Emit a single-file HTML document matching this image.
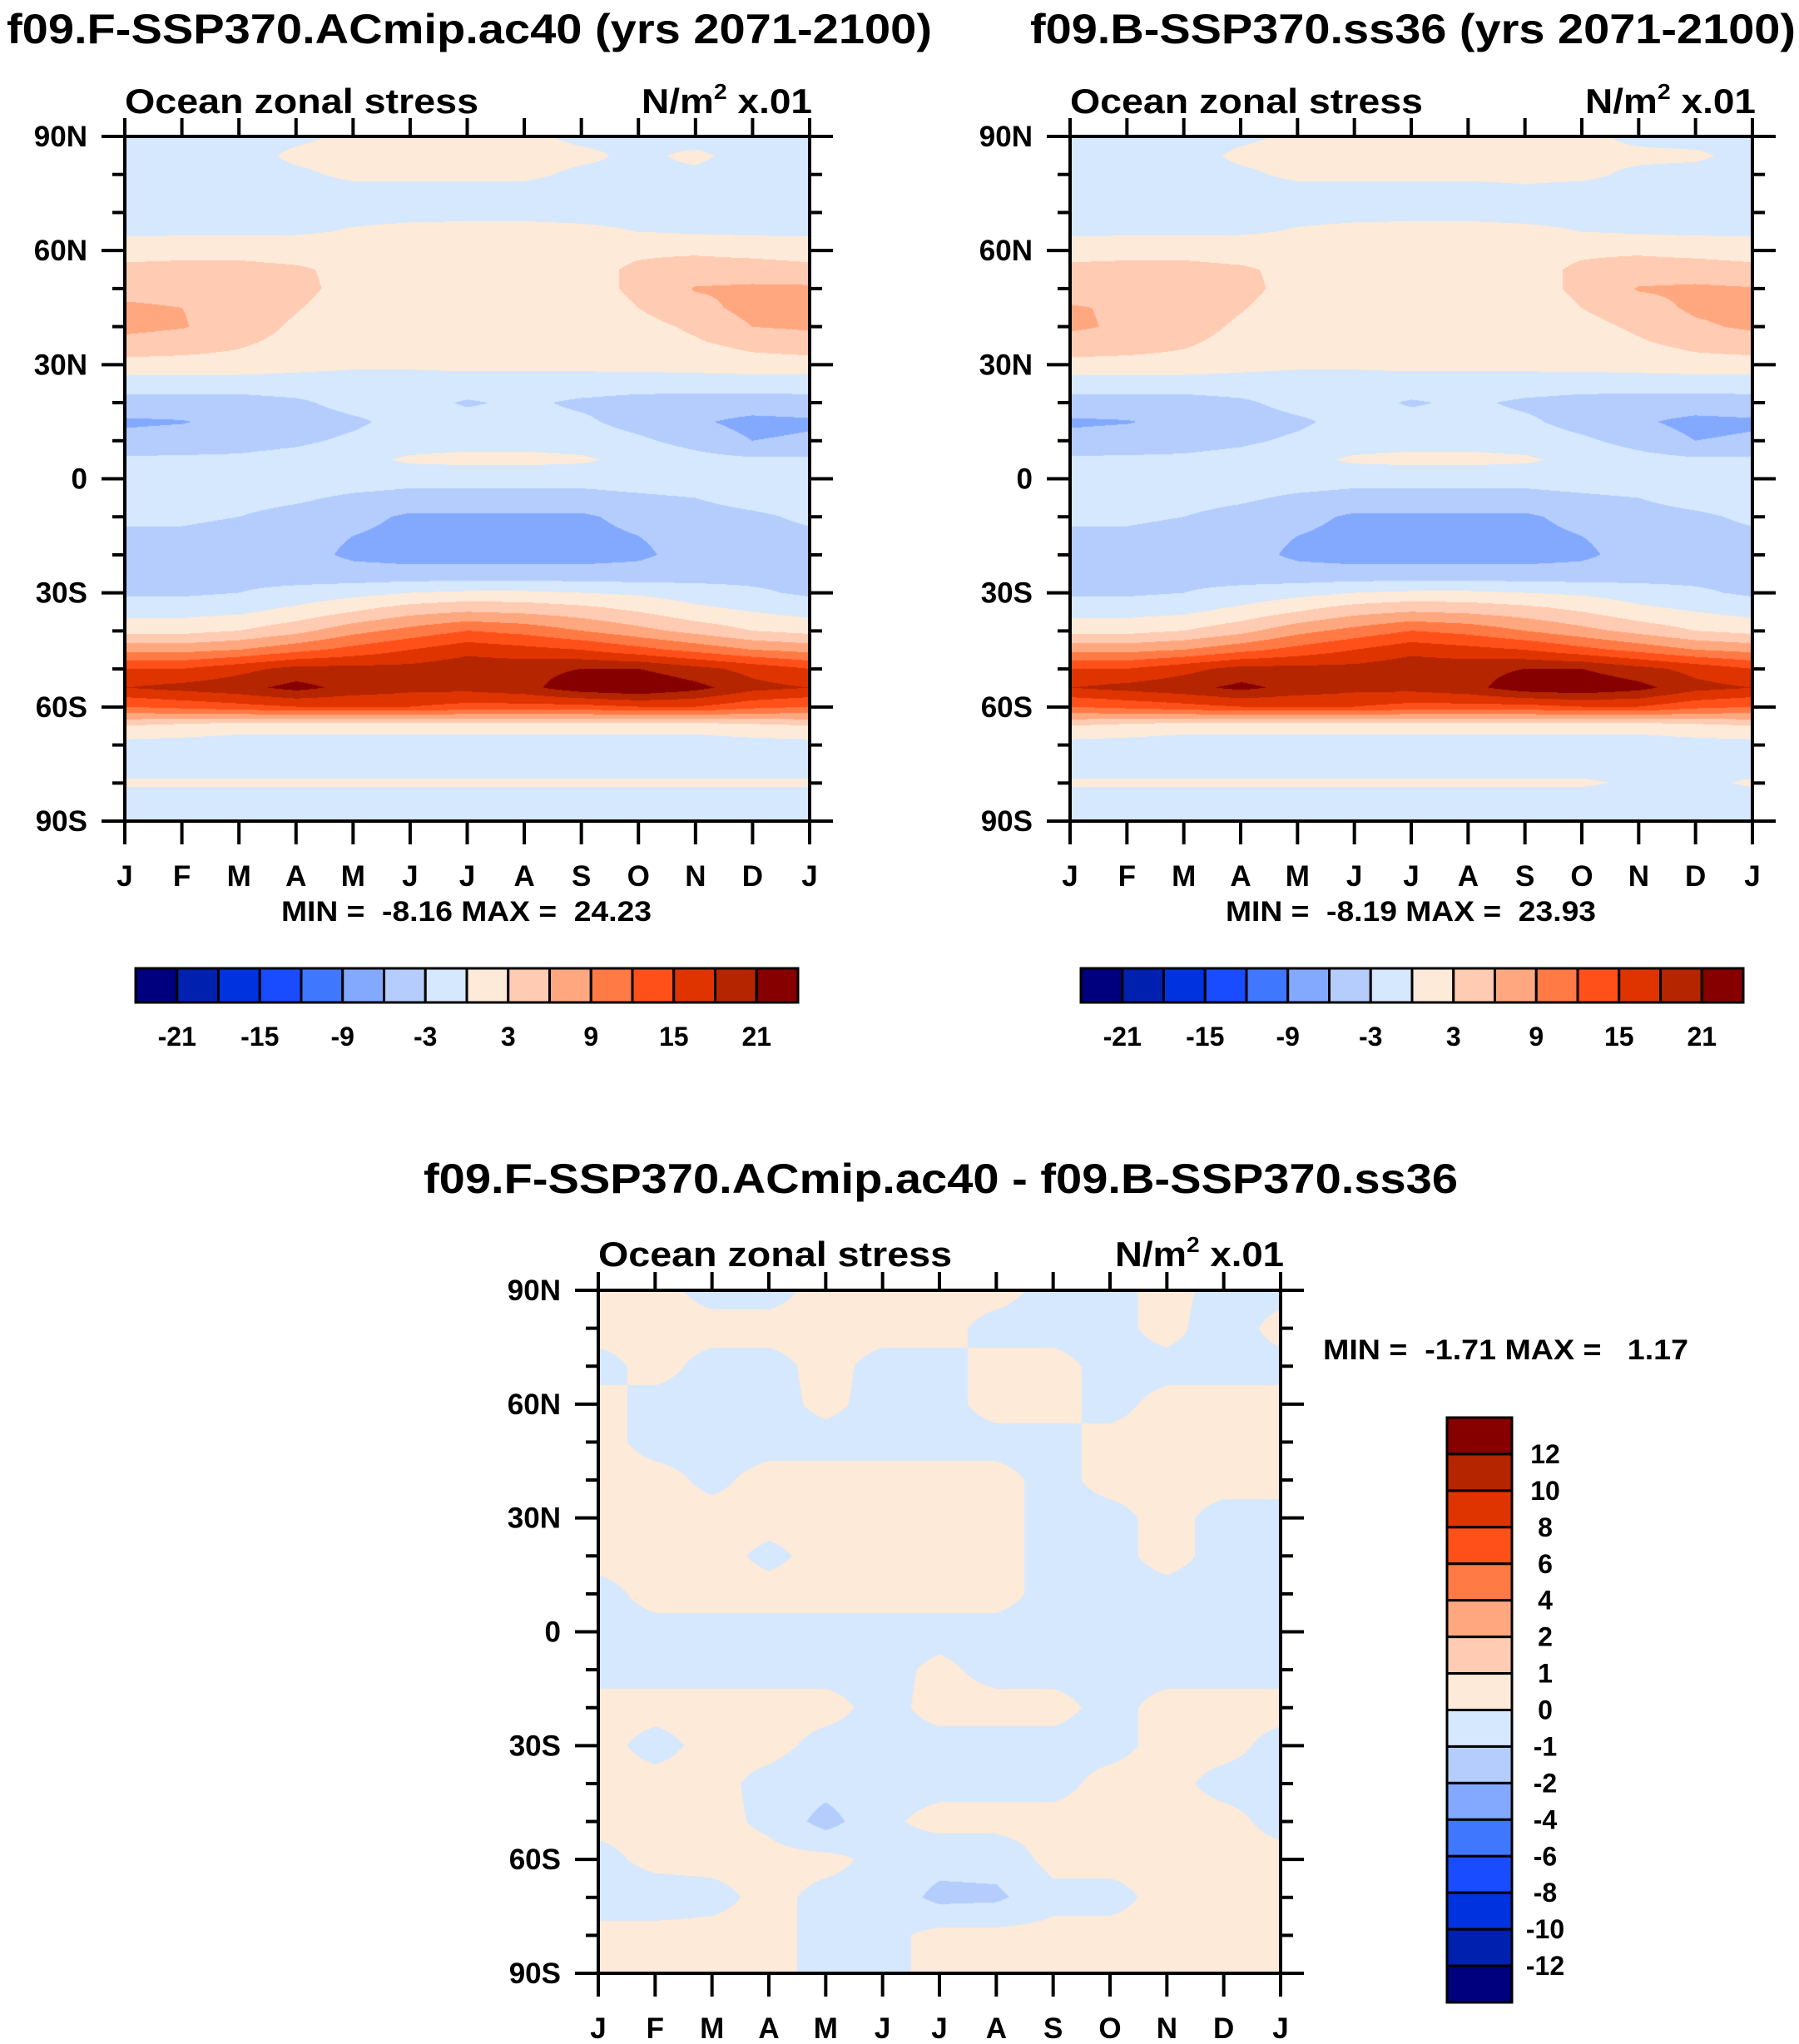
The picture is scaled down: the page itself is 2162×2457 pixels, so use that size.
<!DOCTYPE html>
<html><head><meta charset="utf-8">
<style>
html,body{margin:0;padding:0;background:#fff;}
#root{position:relative;width:2162px;height:2457px;overflow:hidden;background:#fff;}
canvas{position:absolute;}
svg{position:absolute;left:0;top:0;}
text{font-family:"Liberation Sans",sans-serif;font-weight:bold;fill:#000;white-space:pre;}
</style></head>
<body>
<div id="root">
<canvas id="c1"></canvas>
<canvas id="c2"></canvas>
<canvas id="c3"></canvas>
<svg id="ov" width="2162" height="2457" xml:space="preserve"></svg>
</div>
<script>
// ---------- data ----------
const months = ["J","F","M","A","M","J","J","A","S","O","N","D","J"];
const latTicks = ["90N","60N","30N","0","30S","60S","90S"];
const mainLevels = [-21,-18,-15,-12,-9,-6,-3,0,3,6,9,12,15,18,21];
const mainLabels = ["-21","-15","-9","-3","3","9","15","21"];
const diffLevels = [-12,-10,-8,-6,-4,-2,-1,0,1,2,4,6,8,10,12];
const diffLabels = ["12","10","8","6","4","2","1","0","-1","-2","-4","-6","-8","-10","-12"];
const palette = ["#00007f","#0020b0","#0033e0","#1a4cff","#4077ff","#83a9ff","#b4cdfd","#d5e8fd","#feead8","#ffcbb2","#ffa880","#ff7a45","#ff5019","#e03400","#b42500","#870000"];

const ctrlField = [
[-1,-1,-1,-0.5,0.5,0.5,0.5,0.5,-0.5,-0.5,-1,-1,-1],
[-1,-1,-1,0.5,1,1,1,1,0.5,-0.5,0.5,-1,-1],
[-1,-1,-1,-0.5,0.5,0.5,0.5,0.5,-0.5,-0.5,-0.5,-1,-1],
[-1.2,-1.2,-1.2,-1,-1,-1,-1,-1,-1,-1,-1,-1.2,-1.2],
[-0.8,-0.8,-0.6,-0.6,-0.6,-0.5,-0.4,-0.4,-0.4,-0.4,-0.6,-0.8,-0.8],
[-0.5,-0.5,-0.5,-0.3,0.2,0.5,0.5,0.5,0.3,0,-0.3,-0.5,-0.5],
[1.5,2,2,1.5,1.5,1.5,1.5,1.5,2,2.5,2.5,2,1.5],
[4,4,4,3.5,2,1.5,1.5,1.5,2,3.5,4.5,4.5,4],
[5,4.8,4.5,3.8,2,1.5,1.5,1.5,2,3.5,6.2,6.5,6.5],
[6.5,6,5,3.2,1.5,1,1,1,1.5,3,5,7,7.5],
[7,6.2,4.5,2.5,1,1,1,1,1,2,3.5,6,6.5],
[4.5,4,3.2,2,1,1,1,1,1,1.5,2.5,3.5,4],
[2,2,2,1,0.5,0.5,0.8,0.8,0.8,1,1.5,2,2],
[-1.8,-1.8,-1.8,-1.5,-1.5,-1.5,-1.5,-1.5,-1.5,-1.8,-2,-2,-1.8],
[-4,-4,-4,-3.5,-2,-2,-3.3,-2.5,-3.5,-4,-4,-4,-4],
[-6.5,-6.2,-5,-4.5,-3.5,-2,-2,-2,-2.5,-4,-5.5,-7,-6.5],
[-5,-4.5,-4,-3.5,-2.5,-1.5,-1,-1,-1.5,-2.5,-4,-6,-5.5],
[-2.5,-2.5,-2.5,-2,-1,0.5,0.8,0.8,0.5,-1,-2,-2.5,-2.5],
[-1,-1,-1,-1,-1.5,-2,-2,-2,-2,-1.5,-1,-1,-1],
[-1.5,-1.5,-2,-2.5,-3.5,-4,-4,-4,-4,-3.5,-3,-2,-1.5],
[-2.5,-2.5,-3,-4,-5,-6.5,-6.5,-6.5,-6.5,-5,-4,-3.5,-2.5],
[-3.5,-3.5,-4,-5,-6,-7,-7,-7,-7,-6,-5,-4,-3.5],
[-4,-4,-4.5,-5,-6.5,-7,-7,-7,-7,-6.5,-5,-4.5,-4],
[-4,-4,-4,-4.5,-5,-5,-5,-5,-5,-5,-4.5,-4,-4],
[-3.5,-3.5,-3,-2,-1,0,0.5,0.5,0,-0.5,-1.5,-2.5,-3.5],
[-1,-1,-0.5,1,3,5,6,5.5,4.5,3,1,0,-1],
[2,2,3,5,8,10,12,11,9,7,5,3,2],
[8,8,9,11,13,15,17,16,15,13,11,9,8],
[15,15,17,19,19,19,20,20,21,21,19,17,15],
[18,19,20,22,20,19,19,20,23,24,22,19,18],
[12,13,14,15,15,15,14,14,14,15,15,13,12],
[3,2,1,1,1,1,1,1,1,1,1,2,3],
[-1.2,-1.2,-1.2,-1.2,-1.2,-1.2,-1.2,-1.2,-1.2,-1.2,-1.2,-1.2,-1.2],
[-1,-1,-1,-1,-1,-1,-1,-1,-1,-1,-1,-1,-1],
[0.3,0.3,0.3,0.3,0.3,0.3,0.3,0.3,0.3,0.3,0.3,0.3,0.3],
[-1,-1,-1,-1,-1,-1,-1,-1,-1,-1,-1,-1,-1],
[-1,-1,-1,-1,-1,-1,-1,-1,-1,-1,-1,-1,-1]
];
const testField = [
[-1,-1,-1,-0.5,0.5,0.5,0.5,0.5,0.5,0.5,-0.5,-1,-1],
[-1,-1,-1,0.5,1,1,1,1,1,0.5,0.5,0.5,-1],
[-1,-1,-1,-0.5,0.5,0.5,0.5,0.5,0.5,0.5,-0.5,-1,-1],
[-1.2,-1.2,-1.2,-1,-1,-1,-1,-1,-0.5,-1,-1,-1.2,-1.2],
[-0.8,-0.8,-0.6,-0.6,-0.6,-0.5,-0.4,-0.4,-0.4,-0.4,-0.6,-0.8,-0.8],
[-0.5,-0.5,-0.5,-0.3,0.2,0.5,0.5,0.5,0.3,0,-0.3,-0.5,-0.5],
[1.5,2,2,1.5,1.5,1.5,1.5,1.5,2,2.5,2.5,2,1.5],
[4,4,4,3.5,2,1.5,1.5,1.5,2,3.5,4.5,4.5,4],
[4.5,4.5,4.5,3.8,2,1.5,1.5,1.5,2,3.5,6.2,6.5,6.2],
[6.3,5.5,4.8,3.2,1.5,1,1,1,1.5,3,4.8,6.5,7],
[6.5,5.5,4.2,2.5,1,1,1,1,1,2,3.5,5.5,6.5],
[4.5,4,3.2,2,1,1,1,1,1,1.5,2.5,3.5,4],
[2,2,2,1,0.5,0.5,0.8,0.8,0.8,1,1.5,2,2],
[-1.8,-1.8,-1.8,-1.5,-1.5,-1.5,-1.5,-1.5,-1.5,-1.8,-2,-2,-1.8],
[-4,-4,-4,-3.5,-2,-2,-3.3,-2.5,-3.5,-4,-4,-4,-4],
[-6.5,-6.2,-5,-4.5,-3.5,-2,-2,-2,-2.5,-4,-5.5,-7,-6.5],
[-5,-4.5,-4,-3.5,-2.5,-1.5,-1,-1,-1.5,-2.5,-4,-6,-5.5],
[-2.5,-2.5,-2.5,-2,-1,0.5,0.8,0.8,0.5,-1,-2,-2.5,-2.5],
[-1,-1,-1,-1,-1.5,-2,-2,-2,-2,-1.5,-1,-1,-1],
[-1.5,-1.5,-2,-2.5,-3.5,-4,-4,-4,-4,-3.5,-3,-2,-1.5],
[-2.5,-2.5,-3,-4,-5,-6.5,-6.5,-6.5,-6.5,-5,-4,-3.5,-2.5],
[-3.5,-3.5,-4,-5,-6,-7,-7,-7,-7,-6,-5,-4,-3.5],
[-4,-4,-4.5,-5,-6.5,-7,-7,-7,-7,-6.5,-5,-4.5,-4],
[-4,-4,-4,-4.5,-5,-5,-5,-5,-5,-5,-4.5,-4,-4],
[-3.5,-3.5,-3,-2,-1,0,0.5,0.5,0,-0.5,-1.5,-2.5,-3.5],
[-1,-1,-0.5,1,3,5,6,5.5,4.5,3,1,0,-1],
[2,2,3,5,8,10,12,11,9,7,5,3,2],
[8,8,9,11,13,15,17,16,15,13,11,9,8],
[15,15,17,19,19,19,20,20,21,21,19,17,15],
[18,19,20,21.8,20,19,19,20,22.8,23.5,22,19,18],
[12,13,14,15,15,15,14,14,14,15,15,13,12],
[3,2,1,1,1,1,1,1,1,1,1,2,3],
[-1.2,-1.2,-1.2,-1.2,-1.2,-1.2,-1.2,-1.2,-1.2,-1.2,-1.2,-1.2,-1.2],
[-1,-1,-1,-1,-1,-1,-1,-1,-1,-1,-1,-1,-1],
[0.3,0.3,0.3,0.3,0.3,0.3,0.3,0.3,0.3,0.3,-0.3,-0.5,0.3],
[-1,-1,-1,-1,-1,-1,-1,-1,-1,-1,-1,-1,-1],
[-1,-1,-1,-1,-1,-1,-1,-1,-1,-1,-1,-1,-1]
];
const diffField = [
[0.3,0.3,-0.3,-0.3,0.3,0.3,0.3,0.3,-0.3,-0.3,0.3,-0.3,-0.3],
[0.3,0.3,0.3,0.3,0.3,0.3,0.3,-0.3,-0.3,-0.3,0.3,-0.5,0.3],
[-0.3,0.3,-0.3,-0.3,0.3,-0.3,-0.3,0.3,0.3,-0.3,-0.3,-0.3,-0.3],
[0.3,-0.3,-0.3,-0.3,0.2,-0.3,-0.3,0.3,0.3,-0.3,0.3,0.3,0.3],
[0.3,-0.3,-0.3,-0.3,-0.3,-0.3,-0.3,-0.3,-0.3,0.3,0.3,0.5,0.3],
[0.3,0.3,-0.2,0.3,0.3,0.3,0.3,0.3,-0.3,0.3,0.3,0.3,0.3],
[0.3,0.3,0.3,0.3,0.3,0.3,0.3,0.3,-0.3,-0.3,0.3,-0.3,-0.3],
[0.3,0.3,0.3,-0.2,0.3,0.3,0.3,0.3,-0.3,-0.3,0.3,-0.3,-0.3],
[-0.3,0.3,0.3,0.3,0.3,0.3,0.3,0.3,-0.3,-0.3,-0.3,-0.3,-0.3],
[-0.3,-0.3,-0.3,-0.3,-0.3,-0.3,-0.3,-0.3,-0.3,-0.3,-0.3,-0.3,-0.3],
[-0.3,-0.3,-0.3,-0.3,-0.3,-0.3,0.2,-0.3,-0.3,-0.3,-0.3,-0.3,-0.3],
[0.3,0.3,0.3,0.3,0.3,-0.3,0.3,0.3,0.3,-0.3,0.3,0.3,0.3],
[0.3,-0.3,0.3,0.3,-0.3,-0.3,-0.3,-0.3,-0.3,-0.3,0.3,0.3,-0.3],
[0.3,0.3,0.3,-0.3,-0.6,-0.3,-0.3,-0.3,-0.3,0.3,0.3,-0.3,-0.3],
[0.3,0.3,0.3,-0.2,-1.4,-0.2,0.3,0.3,0.3,0.3,0.3,0.3,-0.3],
[-0.3,0.3,0.3,0.3,0.3,-0.3,-0.6,-0.6,0.3,0.3,0.3,0.3,0.3],
[-0.5,-0.5,-0.3,0.3,-0.3,-0.3,-1.3,-1.2,-0.3,-0.3,0.3,0.3,0.3],
[0.3,0.3,0.3,0.3,-0.3,-0.3,0.3,0.3,0.3,0.3,0.3,0.3,0.3],
[0.3,0.3,0.3,0.3,-0.3,-0.3,0.3,0.3,0.3,0.3,0.3,0.3,0.3]
];

// ---------- rendering ----------
const NS = "http://www.w3.org/2000/svg";
const ov = document.getElementById("ov");

function hexToRgb(h){return [parseInt(h.substr(1,2),16),parseInt(h.substr(3,2),16),parseInt(h.substr(5,2),16)];}

function renderField(id, x0, y0, w, h, field, levels) {
  const cv = document.getElementById(id);
  cv.width = w; cv.height = h;
  cv.style.left = x0 + "px"; cv.style.top = y0 + "px";
  const ctx = cv.getContext("2d");
  const img = ctx.createImageData(w, h);
  const nr = field.length, nc = field[0].length;
  const rgbs = palette.map(hexToRgb);
  for (let py = 0; py < h; py++) {
    const v = py / (h - 1) * (nr - 1);
    const r0 = Math.min(Math.floor(v), nr - 2), fy = v - r0;
    for (let px = 0; px < w; px++) {
      const u = px / (w - 1) * (nc - 1);
      const c0 = Math.min(Math.floor(u), nc - 2), fx = u - c0;
      const val = (field[r0][c0]*(1-fx) + field[r0][c0+1]*fx)*(1-fy) + (field[r0+1][c0]*(1-fx) + field[r0+1][c0+1]*fx)*fy;
      let k = 0;
      while (k < levels.length && val >= levels[k]) k++;
      const c = rgbs[k];
      const o = (py * w + px) * 4;
      img.data[o] = c[0]; img.data[o+1] = c[1]; img.data[o+2] = c[2]; img.data[o+3] = 255;
    }
  }
  ctx.putImageData(img, 0, 0);
}

function line(x1,y1,x2,y2,sw,name){
  const l = document.createElementNS(NS,"line");
  l.setAttribute("x1",x1); l.setAttribute("y1",y1); l.setAttribute("x2",x2); l.setAttribute("y2",y2);
  l.setAttribute("stroke","#000"); l.setAttribute("stroke-width",sw);
  
  
  ov.appendChild(l); return l;
}
function txt(s,x,y,size,anchor,name,len){
  const t = document.createElementNS(NS,"text");
  t.setAttribute("x",x); t.setAttribute("y",y);
  t.setAttribute("font-size",size);
  t.setAttribute("text-anchor",anchor||"start");
  if (len) { t.setAttribute("textLength",len); t.setAttribute("lengthAdjust","spacingAndGlyphs"); }
  t.textContent = s;
  
  
  ov.appendChild(t); return t;
}
function unitsText(xr, y, len){
  const t = document.createElementNS(NS,"text");
  t.setAttribute("x",xr - len); t.setAttribute("y",y);
  t.setAttribute("font-size",42);
  t.setAttribute("textLength",len); t.setAttribute("lengthAdjust","spacingAndGlyphs");
  t.innerHTML = 'N/m<tspan dy="-17" font-size="26">2</tspan><tspan dy="17"> x.01</tspan>';
  
  
  ov.appendChild(t);
}

function axes(x0,y0,w,h){
  const r = document.createElementNS(NS,"rect");
  r.setAttribute("x",x0); r.setAttribute("y",y0); r.setAttribute("width",w); r.setAttribute("height",h);
  r.setAttribute("fill","none"); r.setAttribute("stroke","#000"); r.setAttribute("stroke-width",4);
  
  
  ov.appendChild(r);
  for (let i = 0; i < months.length; i++) {
    const x = x0 + w * i / (months.length - 1);
    line(x, y0 + h, x, y0 + h + 28, 4, "x-tick");
    line(x, y0, x, y0 - 22, 4, "x-tick-top");
    txt(months[i], x, y0 + h + 78, 35, "middle", "month-label");
  }
  for (let d = 0; d <= 180; d += 10) {
    const y = y0 + h * d / 180;
    const major = d % 30 === 0;
    const L = major ? 28 : 15;
    line(x0 - L, y, x0, y, 4, major ? "y-tick" : "y-minor-tick");
    line(x0 + w, y, x0 + w + L, y, 4, major ? "y-tick-right" : "y-minor-tick-right");
    if (major) txt(latTicks[d/30], x0 - 45, y + 12, 35, "end", "latitude-label");
  }
}

renderField("c1",150,164,823,823,ctrlField,mainLevels);
renderField("c2",1286,164,820,823,testField,mainLevels);
renderField("c3",719,1551,820,821,diffField,diffLevels);
axes(150,164,823,823);
axes(1286,164,820,823);
axes(719,1551,820,821);

txt("f09.F-SSP370.ACmip.ac40 (yrs 2071-2100)",8,52,50,"start","left-panel-title",1112);
txt("f09.B-SSP370.ss36 (yrs 2071-2100)",1238,52,50,"start","right-panel-title",920);
txt("f09.F-SSP370.ACmip.ac40 - f09.B-SSP370.ss36",509,1434,50,"start","difference-title",1243);

txt("Ocean zonal stress",150,136,42,"start","left-variable-label",425);
unitsText(976,136,205);
txt("Ocean zonal stress",1286,136,42,"start","right-variable-label",424);
unitsText(2110,136,205);
txt("Ocean zonal stress",719,1522,42,"start","diff-variable-label",425);
unitsText(1543,1522,203);

txt("MIN =  -8.16 MAX =  24.23",338,1107,34,"start","left-min-max",445);
txt("MIN =  -8.19 MAX =  23.93",1473,1107,34,"start","right-min-max",445);
txt("MIN =  -1.71 MAX =   1.17",1590,1634,34,"start","diff-min-max",439);

function hbar(x0,y0,w,h){
  const bw = w / palette.length;
  for (let i = 0; i < palette.length; i++) {
    const r = document.createElementNS(NS,"rect");
    r.setAttribute("x",x0 + i*bw); r.setAttribute("y",y0); r.setAttribute("width",bw); r.setAttribute("height",h);
    r.setAttribute("fill",palette[i]); r.setAttribute("stroke","#000"); r.setAttribute("stroke-width",3);
    
    
    ov.appendChild(r);
  }
  for (let j = 0; j < mainLabels.length; j++) {
    txt(mainLabels[j], x0 + (2*j+1)*bw, y0 + h + 52, 32, "middle", "colorbar-label");
  }
}
hbar(163,1164,796,41);
hbar(1299,1164,796,41);

(function(){
  const x0 = 1739, y0 = 1704, w = 78, h = 703;
  const bh = h / palette.length;
  for (let i = 0; i < palette.length; i++) {
    const r = document.createElementNS(NS,"rect");
    r.setAttribute("x",x0); r.setAttribute("y",y0 + i*bh); r.setAttribute("width",w); r.setAttribute("height",bh);
    r.setAttribute("fill",palette[palette.length-1-i]); r.setAttribute("stroke","#000"); r.setAttribute("stroke-width",3);
    
    
    ov.appendChild(r);
  }
  for (let j = 0; j < diffLabels.length; j++) {
    txt(diffLabels[j], 1857, y0 + (j+1)*bh + 11, 32, "middle", "diff-colorbar-label");
  }
})();
</script>
</body></html>
